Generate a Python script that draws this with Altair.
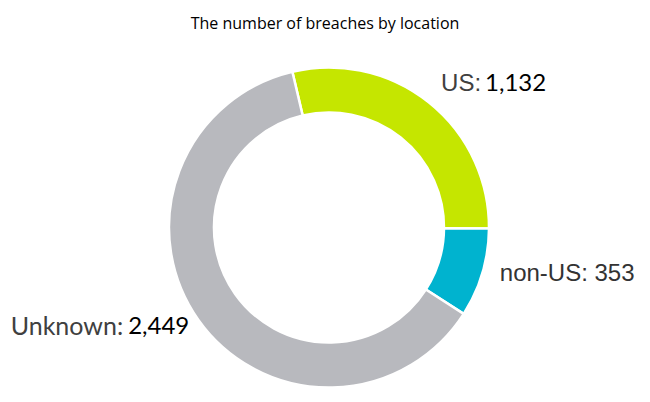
import altair as alt
import pandas as pd
import math

categories = ["US", "non-US", "Unknown"]
values = [1132, 353, 2449]
names = ["US:", "non-US:", "Unknown:"]
numbers = ["1,132", "353", "2,449"]
colors = ["#c5e600", "#00b3cf", "#b8b9be"]

df = pd.DataFrame({
    "cat": categories,
    "value": values,
    "ord": list(range(len(categories))),
    "name": names,
    "num": numbers,
    "full": [n + " " + v for n, v in zip(names, numbers)],
})

start = -0.231
theta = alt.Theta("value:Q", stack=True,
                  scale=alt.Scale(range=[start, start + 2 * math.pi]))
order = alt.Order("ord:Q", sort="ascending")
cx, cy = 321, 189.5

base = alt.Chart(df).encode(theta=theta, order=order,
                            x=alt.value(cx), y=alt.value(cy))

arcs = base.mark_arc(innerRadius=115, outerRadius=160, stroke="white",
                     strokeWidth=2.5).encode(
    color=alt.Color("cat:N", scale=alt.Scale(domain=categories, range=colors),
                    legend=None)
)

def label(cat, field, align, dx, dy, font, size, color):
    return base.mark_text(radius=175, align=align, baseline="middle", dx=dx,
                          dy=dy, font=font, fontSize=size, color=color).encode(
        text=alt.condition(f"datum.cat == '{cat}'", alt.Text(f"{field}:N"),
                           alt.value(""))
    )

layers = [
    arcs,
    label("US", "name", "right", 43, -7, "Liberation Sans", 24, "#404040"),
    label("US", "num", "left", 47, -7, "Lato", 24, "#000000"),
    label("non-US", "full", "left", 3, -3.5, "Liberation Sans", 24, "#333333"),
    label("Unknown", "name", "right", -63, -1.5, "Lato", 25, "#404040"),
    label("Unknown", "num", "left", -58, -1.5, "Lato", 24, "#000000"),
]

chart = alt.layer(*layers).properties(
    width=634, height=356,
    padding={"left": 0, "top": 30, "right": 0, "bottom": 0},
    autosize=alt.AutoSizeParams(type="none"),
    title=alt.TitleParams("The number of breaches by location", font="Open Sans",
                          fontSize=16, fontWeight="normal", color="black",
                          anchor="middle", offset=6),
).configure_view(stroke=None)

chart.save("out.html", embed_options={"renderer": "svg", "actions": False})
